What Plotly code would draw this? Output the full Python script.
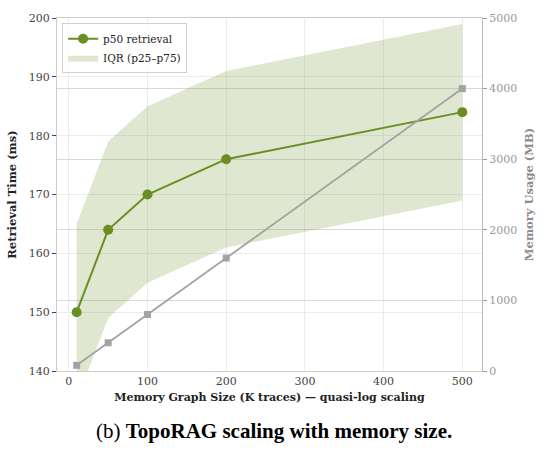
import plotly.graph_objects as go

# Memory graph size (thousands of traces)
sizes_k = [10, 50, 100, 200, 500]
# Retrieval latency percentiles (ms)
p50_ms = [150, 164, 170, 176, 184]
p25_ms = [135, 149, 155, 161, 169]
p75_ms = [165, 179, 185, 191, 199]
# Memory footprint (MB)
memory_mb = [80, 400, 800, 1600, 4000]

x_ticks = [0, 100, 200, 300, 400, 500]
y_ticks = [140, 150, 160, 170, 180, 190, 200]
y2_ticks = [0, 1000, 2000, 3000, 4000, 5000]

GREEN = "#6b8e23"
FILL = "rgba(107,142,35,0.21)"
GRAY = "#a3a3a3"
SERIF = "DejaVu Serif"

fig = go.Figure()

# IQR band (drawn beneath the median line)
fig.add_trace(go.Scatter(
    x=sizes_k, y=p25_ms, mode="lines", line=dict(width=0, color=FILL),
    showlegend=False, hoverinfo="skip", yaxis="y",
))
fig.add_trace(go.Scatter(
    x=sizes_k, y=p75_ms, mode="lines", line=dict(width=0, color=FILL),
    fill="tonexty", fillcolor=FILL, name="IQR (p25–p75)",
    legendrank=2, yaxis="y",
))

# Median retrieval time
fig.add_trace(go.Scatter(
    x=sizes_k, y=p50_ms, mode="lines+markers", name="p50 retrieval",
    line=dict(color=GREEN, width=2),
    marker=dict(color=GREEN, size=10, symbol="circle"),
    legendrank=1, yaxis="y",
))

# Memory usage on the secondary axis
fig.add_trace(go.Scatter(
    x=sizes_k, y=memory_mb, mode="lines+markers", name="Memory",
    line=dict(color=GRAY, width=1.8),
    marker=dict(color=GRAY, size=7, symbol="square"),
    showlegend=False, yaxis="y2",
))

fig.update_layout(
    width=545, height=452,
    margin=dict(l=56, r=47, t=14, b=81),
    paper_bgcolor="white", plot_bgcolor="white",
    font=dict(family=SERIF, size=11, color="#333333"),
    xaxis=dict(
        range=[-15, 525], tickvals=x_ticks, ticks="",
        showgrid=True, gridcolor="#ececec", gridwidth=1,
        showline=True, linecolor="#cccccc", linewidth=1.2, mirror=True,
        zeroline=False,
        tickfont=dict(family=SERIF, size=11, color="#444444"),
        title=dict(
            text="<b>Memory Graph Size (K traces) — quasi-log scaling</b>",
            font=dict(family=SERIF, size=11, color="#222222"), standoff=6,
        ),
    ),
    yaxis=dict(
        range=[140, 200], tickvals=y_ticks,
        ticks="outside", ticklen=4, tickcolor="#444444",
        showgrid=True, gridcolor="#ececec", gridwidth=1,
        showline=True, linecolor="#cccccc", linewidth=1.2, mirror=False,
        zeroline=False,
        tickfont=dict(family=SERIF, size=11, color="#444444"),
        title=dict(
            text="<b>Retrieval Time (ms)</b>",
            font=dict(family=SERIF, size=11.5, color="#222222"), standoff=9,
        ),
    ),
    yaxis2=dict(
        range=[0, 5000], tickvals=y2_ticks, overlaying="y", side="right",
        ticks="outside", ticklen=4, tickcolor="#999999",
        showgrid=True, gridcolor="#d9d9d9", gridwidth=1.3,
        showline=True, linecolor="#bbbbbb", linewidth=1.2,
        zeroline=False,
        tickfont=dict(family=SERIF, size=11, color="#999999"),
        title=dict(
            text="<b>Memory Usage (MB)</b>",
            font=dict(family=SERIF, size=11.5, color="#8c8c8c"), standoff=8,
        ),
    ),
    legend=dict(
        x=0.012, y=0.985, xanchor="left", yanchor="top",
        traceorder="normal",
        bgcolor="rgba(255,255,255,0.85)", bordercolor="#d0d0d0", borderwidth=1,
        font=dict(family=SERIF, size=10.5, color="#222222"),
        itemwidth=30, tracegroupgap=0,
    ),
    showlegend=True,
)

fig.add_annotation(
    text="(b) <b>TopoRAG scaling with memory size.</b>",
    xref="paper", yref="paper", x=0.51, y=-0.171,
    xanchor="center", yanchor="middle",
    showarrow=False,
    font=dict(family="Liberation Serif", size=21, color="#000000"),
)

fig.write_html("out.html")
